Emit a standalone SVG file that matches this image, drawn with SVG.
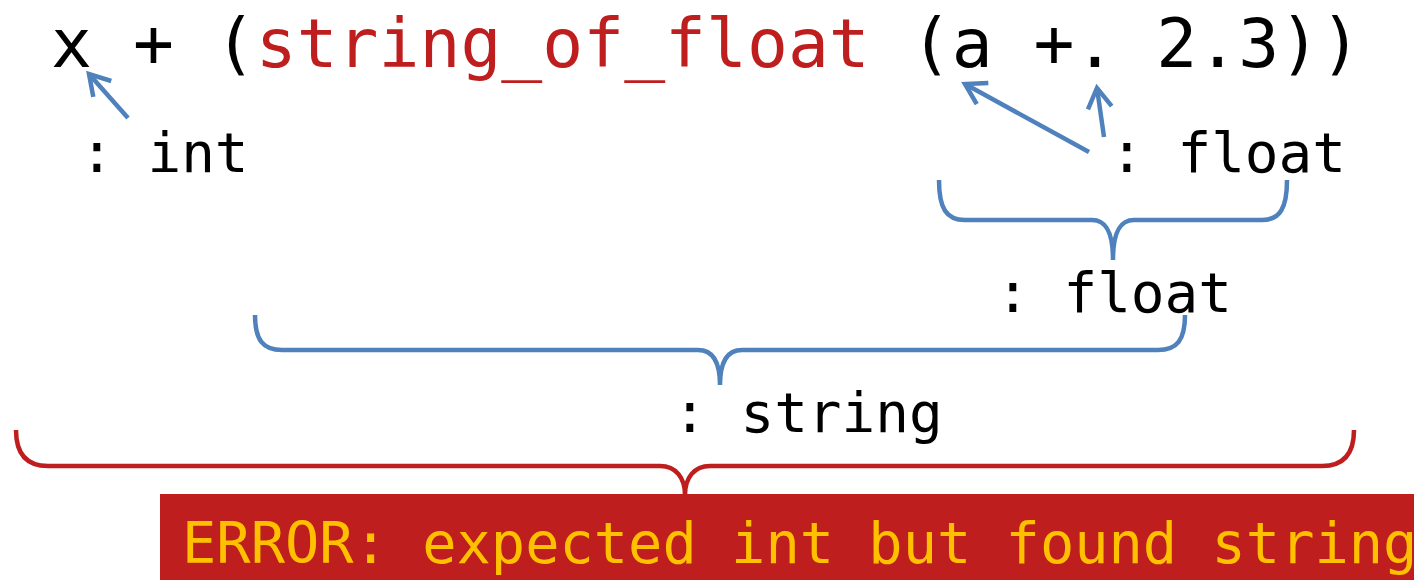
<svg xmlns="http://www.w3.org/2000/svg" width="1414" height="580" viewBox="0 0 1414 580">
<style>
.code{font-family:"DejaVu Sans Mono","Liberation Mono",monospace;font-size:68px;fill:#000}
.lbl{font-family:"DejaVu Sans Mono","Liberation Mono",monospace;font-size:56px;fill:#000}
.fn{fill:#BE1E1E}
.err{font-family:"DejaVu Sans Mono","Liberation Mono",monospace;font-size:57px;fill:#FFC000}
.blue{fill:none;stroke:#4F81BD;stroke-width:4.5;stroke-linecap:butt}
.red{fill:none;stroke:#BE1E1E;stroke-width:4.5}
</style>
<defs>
<marker id="ah" viewBox="0 0 10 10" refX="9" refY="5" markerWidth="10" markerHeight="10" orient="auto" markerUnits="userSpaceOnUse" overflow="visible">
<path d="M-11,-7 L9,5 L-11,17" fill="none" stroke="#4F81BD" stroke-width="4.5"/>
</marker>
</defs>
<g id="expr"><text class="code" x="51" y="67">x + (<tspan class="fn">string_of_float</tspan> (a +. 2.3))</text></g>
<g id="lbl-int"><text class="lbl" x="80" y="172">: int</text></g>
<g id="lbl-float1"><text class="lbl" x="1110" y="172">: float</text></g>
<g id="lbl-float2"><text class="lbl" x="996" y="312">: float</text></g>
<g id="lbl-string"><text class="lbl" x="673" y="432">: string</text></g>
<g id="error">
<rect x="160" y="494" width="1260" height="90" fill="#BE1E1E"/>
<text class="err" x="182" y="563">ERROR: expected int but found string</text>
</g>
<g id="connectors">
<line class="blue" x1="128" y1="118" x2="89" y2="74" marker-end="url(#ah)"/>
<line class="blue" x1="1089" y1="152" x2="965" y2="84" marker-end="url(#ah)"/>
<line class="blue" x1="1104" y1="137" x2="1097" y2="88" marker-end="url(#ah)"/>
<path class="blue" d="M939,180 C939,208 946,220 965,220 L1092,220 C1106,220 1113,232 1113,260 M1113,260 C1113,232 1120,220 1134,220 L1262,220 C1280,220 1287,208 1287,180"/>
<path class="blue" d="M255,315 C255,340 263,350 282,350 L698,350 C713,350 720,362 720,385 M720,385 C720,362 727,350 742,350 L1158,350 C1177,350 1185,340 1185,315"/>
<path class="red" d="M16,430 C16,453 26,466 48,466 L660,466 C676,466 685,478 685,495 M685,495 C685,478 694,466 710,466 L1322,466 C1344,466 1354,453 1354,430"/>
</g>
</svg>
